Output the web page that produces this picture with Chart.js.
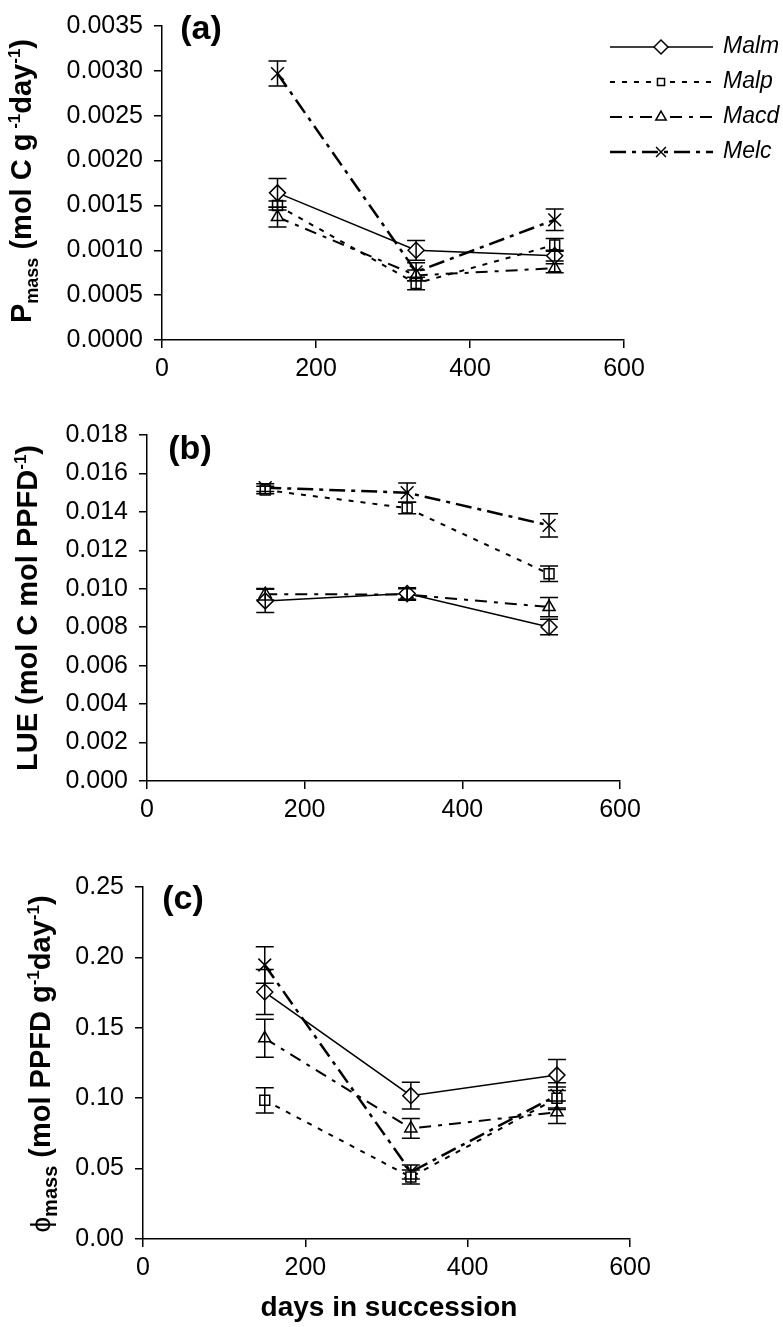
<!DOCTYPE html>
<html>
<head>
<meta charset="utf-8">
<script src="https://cdn.jsdelivr.net/npm/chart.js@4/dist/chart.umd.min.js"></script>
<style>
  html, body { margin: 0; padding: 0; background: #fff; }
  #wrap { position: relative; width: 783px; height: 1327px; }
  canvas { position: absolute; left: 0; }
</style>
</head>
<body>
<div id="wrap">
  <canvas id="chartA" width="783" height="395" style="top:0px"></canvas>
  <canvas id="chartB" width="783" height="435" style="top:395px"></canvas>
  <canvas id="chartC" width="783" height="497" style="top:830px"></canvas>
</div>
<script>
// days in succession (x values)
const days = [150, 330, 510];
const species = ['Malm', 'Malp', 'Macd', 'Melc'];

// (a) Pmass, mol C g-1 day-1
const pmassMalm = [0.00164, 0.00100, 0.00094];
const pmassMalp = [0.00150, 0.00063, 0.00106];
const pmassMacd = [0.00137, 0.00072, 0.00080];
const pmassMelc = [0.00297, 0.00076, 0.00134];
const pmassErrMalm = [0.00016, 0.00011, 0.00006];
const pmassErrMalp = [0.00005, 0.00007, 0.00007];
const pmassErrMacd = [0.00011, 0.00006, 0.00005];
const pmassErrMelc = [0.00014, 0.00010, 0.00012];

// (b) LUE, mol C mol PPFD-1
const lueMalm = [0.00937, 0.00975, 0.00801];
const lueMalp = [0.01514, 0.01420, 0.01078];
const lueMacd = [0.00972, 0.00970, 0.00905];
const lueMelc = [0.01526, 0.01500, 0.01330];
const lueErrMalm = [0.0006, 0.0003, 0.0004];
const lueErrMalp = [0.0002, 0.0003, 0.0004];
const lueErrMacd = [0.0003, 0.0003, 0.0005];
const lueErrMelc = [0.0002, 0.0005, 0.0006];

// (c) phi mass, mol PPFD g-1 day-1
const phiMalm = [0.1754, 0.1018, 0.1164];
const phiMalp = [0.0985, 0.0440, 0.1000];
const phiMacd = [0.1425, 0.0785, 0.0900];
const phiMelc = [0.1946, 0.0476, 0.1020];
const phiErrMalm = [0.016, 0.0095, 0.011];
const phiErrMalp = [0.009, 0.005, 0.008];
const phiErrMacd = [0.0135, 0.007, 0.008];
const phiErrMelc = [0.013, 0.005, 0.009];

const FONT = "'Liberation Sans', Arial, Helvetica, sans-serif";

const looks = {
  Malm: { pointStyle: 'rectRot', radius: 8, legendRadius: 7, dash: [], width: 1.5 },
  Malp: { pointStyle: 'rect', radius: 7, legendRadius: 5, dash: [5, 7], width: 2 },
  Macd: { pointStyle: 'triangle', radius: 7, legendRadius: 6, dash: [12, 7, 4, 7], width: 2 },
  Melc: { pointStyle: 'crossRot', radius: 9, legendRadius: 7, dash: [16, 6, 4, 6], width: 2.5 }
};

function fontOf(p) {
  return (p.bold ? 'bold ' : '') + p.size + 'px ' + FONT;
}

function richTitle(ctx, parts, baseX, centerY) {
  ctx.save();
  ctx.translate(baseX, centerY);
  ctx.rotate(-Math.PI / 2);
  ctx.fillStyle = '#000';
  ctx.textBaseline = 'alphabetic';
  ctx.textAlign = 'left';
  let total = 0;
  parts.forEach(p => { ctx.font = fontOf(p); p.w = ctx.measureText(p.t).width; total += p.w; });
  let x = -total / 2;
  parts.forEach(p => { ctx.font = fontOf(p); ctx.fillText(p.t, x, p.dy || 0); x += p.w; });
  ctx.restore();
}

function marker(ctx, name, x, y) {
  const lk = looks[name];
  ctx.save();
  ctx.setLineDash([]);
  ctx.strokeStyle = '#000';
  ctx.fillStyle = '#fff';
  ctx.lineWidth = 1.5;
  Chart.helpers.drawPoint(ctx, { pointStyle: lk.pointStyle, radius: lk.legendRadius, rotation: 0, borderWidth: 1.5 }, x, y);
  ctx.restore();
}

// per-canvas extras, kept outside chart options
const extras = {
  chartA: {
    errors: [pmassErrMalm, pmassErrMalp, pmassErrMacd, pmassErrMelc],
    title: [
      { t: 'P', size: 29, bold: true },
      { t: 'mass', size: 18, bold: true, dy: 7 },
      { t: ' (mol C g', size: 29, bold: true },
      { t: ' -1', size: 17, bold: true, dy: -11 },
      { t: 'day', size: 29, bold: true },
      { t: '-1', size: 17, bold: true, dy: -11 },
      { t: ')', size: 29, bold: true }
    ],
    titleX: 31, titleY: 181,
    label: '(a)', labelX: 201, labelY: 30,
    legend: true
  },
  chartB: {
    errors: [lueErrMalm, lueErrMalp, lueErrMacd, lueErrMelc],
    title: [
      { t: 'LUE (mol C mol PPFD', size: 29, bold: true },
      { t: '-1', size: 17, bold: true, dy: -11 },
      { t: ')', size: 29, bold: true }
    ],
    titleX: 37, titleY: 213,
    label: '(b)', labelX: 190, labelY: 55
  },
  chartC: {
    errors: [phiErrMalm, phiErrMalp, phiErrMacd, phiErrMelc],
    title: [
      { t: '\u03D5', size: 28, bold: false },
      { t: 'mass', size: 20, bold: true, dy: 7 },
      { t: ' (mol PPFD g', size: 29, bold: true },
      { t: '-1', size: 17, bold: true, dy: -11 },
      { t: 'day', size: 29, bold: true },
      { t: '-1', size: 17, bold: true, dy: -11 },
      { t: ')', size: 29, bold: true }
    ],
    titleX: 50, titleY: 234,
    label: '(c)', labelX: 183, labelY: 70,
    xTitle: 'days in succession', xTitleY: 486
  }
};

const extrasPlugin = {
  id: 'extras',
  afterDatasetsDraw(chart) {
    const ex = extras[chart.canvas.id];
    const ctx = chart.ctx, xs = chart.scales.x, ys = chart.scales.y;
    ctx.save();
    ctx.strokeStyle = '#000';
    ctx.lineWidth = 1.5;
    ctx.setLineDash([]);
    chart.data.datasets.forEach((ds, di) => {
      ds.data.forEach((pt, i) => {
        const e = ex.errors[di][i];
        const px = xs.getPixelForValue(pt.x);
        const top = ys.getPixelForValue(pt.y + e);
        const bot = ys.getPixelForValue(pt.y - e);
        ctx.beginPath();
        ctx.moveTo(px, top); ctx.lineTo(px, bot);
        ctx.moveTo(px - 9, top); ctx.lineTo(px + 9, top);
        ctx.moveTo(px - 9, bot); ctx.lineTo(px + 9, bot);
        ctx.stroke();
      });
    });
    ctx.restore();
  },
  afterDraw(chart) {
    const ex = extras[chart.canvas.id];
    const ctx = chart.ctx;
    richTitle(ctx, ex.title, ex.titleX, ex.titleY);

    ctx.save();
    ctx.fillStyle = '#000';
    ctx.font = 'bold 34px ' + FONT;
    ctx.textAlign = 'center';
    ctx.textBaseline = 'middle';
    ctx.fillText(ex.label, ex.labelX, ex.labelY);
    ctx.restore();

    if (ex.xTitle) {
      ctx.save();
      ctx.fillStyle = '#000';
      ctx.font = 'bold 28px ' + FONT;
      ctx.textAlign = 'center';
      ctx.textBaseline = 'alphabetic';
      ctx.fillText(ex.xTitle, 389, ex.xTitleY);
      ctx.restore();
    }

    if (ex.legend) {
      const rows = [47, 82, 117, 152];
      species.forEach((name, i) => {
        const lk = looks[name];
        const y = rows[i];
        ctx.save();
        ctx.strokeStyle = '#000';
        ctx.lineWidth = lk.width;
        ctx.setLineDash(lk.dash);
        ctx.beginPath();
        ctx.moveTo(610, y); ctx.lineTo(713, y);
        ctx.stroke();
        ctx.restore();
        marker(ctx, name, 661, y);
        ctx.save();
        ctx.fillStyle = '#000';
        ctx.font = 'italic 23px ' + FONT;
        ctx.textBaseline = 'middle';
        ctx.fillText(name, 723, y);
        ctx.restore();
      });
    }
  }
};

function makeDatasets(seriesList) {
  return species.map((name, k) => {
    const lk = looks[name];
    return {
      label: name,
      data: days.map((d, i) => ({ x: d, y: seriesList[k][i] })),
      showLine: true,
      borderColor: '#000',
      borderWidth: lk.width,
      borderDash: lk.dash,
      pointStyle: lk.pointStyle,
      pointRadius: lk.radius,
      pointBorderWidth: 1.5,
      pointBorderColor: '#000',
      pointBackgroundColor: '#fff',
      tension: 0
    };
  });
}

function makePanel(id, seriesList, yMax, yStep, decimals, yWidth, xHeight, pad) {
  const axisStyle = {
    grid: { drawOnChartArea: false, drawTicks: true, tickLength: 8, color: '#000', lineWidth: 1.5 },
    border: { display: true, color: '#000', width: 1.5 }
  };
  return new Chart(document.getElementById(id), {
    type: 'scatter',
    data: { datasets: makeDatasets(seriesList) },
    options: {
      responsive: false,
      animation: false,
      devicePixelRatio: 1,
      layout: { padding: pad },
      plugins: { legend: { display: false }, tooltip: { enabled: false } },
      scales: {
        x: Object.assign({
          type: 'linear', min: 0, max: 600,
          ticks: { stepSize: 200, color: '#000', padding: 6, font: { size: 25, family: FONT } },
          afterFit: s => { s.height = xHeight; }
        }, axisStyle),
        y: Object.assign({
          type: 'linear', min: 0, max: yMax,
          ticks: {
            stepSize: yStep, color: '#000', padding: 11, font: { size: 25, family: FONT },
            callback: v => Number(v).toFixed(decimals)
          },
          afterFit: s => { s.width = yWidth; }
        }, axisStyle)
      }
    },
    plugins: [extrasPlugin]
  });
}

makePanel('chartA', [pmassMalm, pmassMalp, pmassMacd, pmassMelc], 0.0035, 0.0005, 4, 162, 55,
  { top: 18, bottom: 0, left: 0, right: 159 });
makePanel('chartB', [lueMalm, lueMalp, lueMacd, lueMelc], 0.018, 0.002, 3, 147, 49,
  { top: 40, bottom: 0, left: 0, right: 163 });
makePanel('chartC', [phiMalm, phiMalp, phiMacd, phiMelc], 0.25, 0.05, 2, 143, 88,
  { top: 57, bottom: 0, left: 0, right: 153 });
</script>
</body>
</html>
